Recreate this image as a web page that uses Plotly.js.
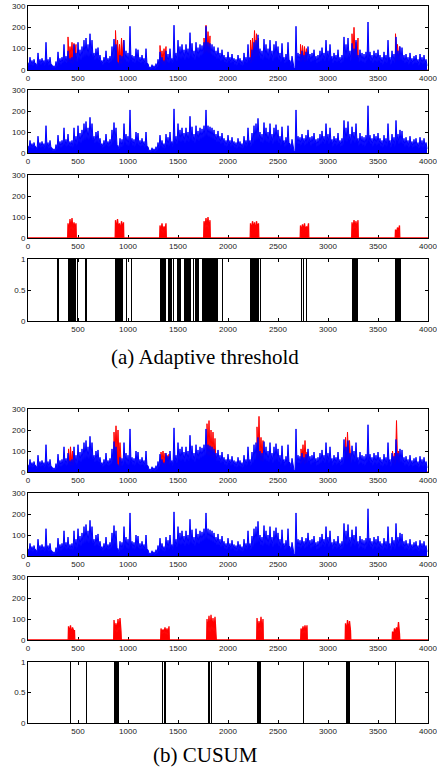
<!DOCTYPE html>
<html><head><meta charset="utf-8">
<script src="https://cdn.plot.ly/plotly-3.0.1.min.js"></script>
<style>html,body{margin:0;padding:0;background:#fff;}#chart{width:437px;height:776px;}</style>
</head><body><div id="chart"></div>
<script>
// samples per bin for the normal-traffic envelope arrays
const binSize = 20;

// normal (background) traffic: highest value in each 20-sample bin
const normalPeak = [
  35,60,45,50,30, 80,50,55,45,130, 50,60,25,20,40, 85,55,60,120,65,
  90,55,60,120,80, 130,95,110,140,150, 120,170,140,80,100, 105,70,45,60,90,
  55,65,110,145,120, 35,70,65,140,90, 80,205,70,65,100, 95,60,70,55,100,
  30,15,25,20,30, 50,85,60,45,90, 75,100,55,210,80, 140,110,120,95,120,
  100,175,125,90,130, 105,120,115,130,205, 130,125,120,110,90, 105,80,95,70,60,
  85,60,75,55,50, 70,55,45,80,60, 120,60,95,130,140, 165,100,90,145,120,
  100,140,90,120,135, 110,80,125,60,75, 130,45,65,10,205, 80,75,90,70,85,
  110,75,80,95,65, 70,90,105,80,140, 90,120,65,80,70, 95,60,70,155,120,
  150,90,125,100,140, 70,95,80,75,85, 225,85,70,90,80, 95,70,60,85,70,
  140,60,90,75,155, 90,110,105,70,75, 60,80,55,65,70, 50,75,60,70,50
];
// normal traffic: lowest value in each 20-sample bin
const normalTrough = [
  20,25,20,30,15, 30,25,30,20,30, 20,25,10,8,15, 30,25,30,35,30,
  35,30,25,40,35, 50,45,55,60,65, 60,70,60,45,50, 45,35,25,30,35,
  30,35,45,55,40, 15,25,30,45,35, 30,45,35,30,40, 35,30,35,25,30,
  10,5,8,5,10, 20,30,25,20,35, 30,40,30,50,40, 55,50,55,45,55,
  50,60,55,45,60, 55,65,70,75,80, 75,70,65,60,50, 50,40,45,35,30,
  40,30,35,25,20, 30,25,20,35,30, 45,30,40,55,60, 65,50,45,55,50,
  45,55,40,50,55, 45,35,50,30,35, 45,20,25,3,40, 40,35,45,35,40,
  50,35,40,45,30, 35,40,50,40,55, 40,50,30,40,35, 40,30,35,55,50,
  60,40,55,45,55, 35,40,35,30,40, 50,40,30,40,35, 40,30,25,35,30,
  50,25,40,30,55, 40,45,40,30,35, 25,35,25,30,30, 20,30,25,30,20
];

// attack bursts (a): start sample and values every 10 samples
const burstStartA = [400, 875, 1320, 1760, 2225, 2725, 3240, 3675];
const attackA = [
  [70,30,90,40,95,35,75,45,70],
  [85,35,90,40,70,30,80,45,75],
  [60,30,70,25,55,35,70],
  [80,45,95,50,100,40,85],
  [70,35,80,40,75,30,80,45,70],
  [60,30,65,35,70,30,55,40,70],
  [75,40,85,45,80,35,85],
  [40,25,50,30,60]
];
// observed total traffic during bursts (a), drawn red in the top panel
const totalA = [
  [155,60,110,70,130,60,125,80,120],
  [185,70,140,60,120,50,150,70,140],
  [115,50,90,45,100,55,110],
  [150,80,210,90,180,85,160],
  [140,70,150,60,185,80,170,65,150],
  [120,60,115,55,110,60,100],
  [170,70,200,80,130,60,150],
  [170,60,120,50,110]
];

// attack bursts (b)
const burstStartB = [405, 860, 1330, 1790, 2290, 2730, 3175, 3645];
const attackB = [
  [65,30,70,25,60,45,45],
  [95,40,80,35,100,45,105,40],
  [55,30,50,35,60,30,55,25,65],
  [100,40,115,35,120,45,105,40,110,35],
  [105,40,90,45,110,35,100],
  [55,30,65,35,70,30,70],
  [80,35,95,40,90,45],
  [40,20,55,30,60,35,85,30]
];
const totalB = [
  [110,50,120,55,100,60,90],
  [190,80,220,90,200,70,140,60],
  [95,50,100,45,90,50,80,45,85],
  [230,100,245,90,200,85,190,80,160,70],
  [215,90,265,80,165,70,150],
  [110,60,130,55,150,60,95],
  [165,70,190,75,150,70],
  [100,50,90,45,245,60,100,50]
];

// detection alarms (start / end sample of each alarm interval)
const alarmAdaptiveStart = [290,400,488,570,873,932,978,1030,1317,1400,1450,1490,1557,1647,1667,1740,1940,2223,2317,2730,2750,2777,3240,3673];
const alarmAdaptiveEnd   = [310,478,498,588,925,948,988,1040,1383,1437,1460,1527,1633,1657,1707,1900,1950,2307,2327,2740,2760,2790,3300,3733];
const alarmCusumStart = [418,578,857,1340,1363,1797,1825,2290,2748,3183,3672];
const alarmCusumEnd   = [428,588,910,1350,1383,1820,1837,2333,2758,3223,3682];

const xTicksFull = [0,500,1000,1500,2000,2500,3000,3500,4000];
const xTicksAlarm = [500,1000,1500,2000,2500,3000,3500,4000];
const yTicksTraffic = [0,100,200,300];
const yTicksAlarm = [0,0.5,1];
const captions = ["(a) Adaptive threshold", "(b) CUSUM"];

// ---- build ----
const W = 437, H = 776;
const panelPx = [[6,70],[90,153],[175,238],[259,321],[409,472],[493,556],[577,640],[662,723]];

// min/max envelope line for the normal traffic
const nx = [], ny = [];
normalPeak.forEach((p, i) => { nx.push(i*binSize, i*binSize + binSize/2); ny.push(p, normalTrough[i]); });

// burst series with a zero baseline spanning the whole axis
function burstSeries(starts, vals) {
  const x = [0], y = [0];
  starts.forEach((s, b) => {
    x.push(s - 3); y.push(0);
    vals[b].forEach((v, j) => { x.push(s + 10*j); y.push(v); });
    x.push(s + 10*(vals[b].length - 1) + 3); y.push(0);
  });
  x.push(4000); y.push(0);
  return {x, y};
}
const sA = burstSeries(burstStartA, attackA), tA = burstSeries(burstStartA, totalA);
const sB = burstSeries(burstStartB, attackB), tB = burstSeries(burstStartB, totalB);

function fillTrace(x, y, color, ax, lw) {
  return {type:'scatter', mode:'lines', x: x, y: y, line:{color:color, width:lw || 1, shape:'linear'},
    fill:'tozeroy', fillcolor:color, xaxis:'x'+ax, yaxis:'y'+ax, hoverinfo:'skip', showlegend:false, cliponaxis:false};
}
function alarmTrace(starts, ends, ax) {
  return {type:'bar', x: starts.map((s,i)=> (s+ends[i])/2), y: starts.map(()=>1),
    width: starts.map((s,i)=> ends[i]-s), marker:{color:'#000', line:{width:0}},
    xaxis:'x'+ax, yaxis:'y'+ax, hoverinfo:'skip', showlegend:false};
}

const data = [
  fillTrace(tA.x, tA.y, '#ff0000', ''), fillTrace(nx, ny, '#0000ff', ''),
  fillTrace(nx, ny, '#0000ff', '2'),
  fillTrace(sA.x, sA.y, '#ff0000', '3', 1.3),
  alarmTrace(alarmAdaptiveStart, alarmAdaptiveEnd, '4'),
  fillTrace(tB.x, tB.y, '#ff0000', '5'), fillTrace(nx, ny, '#0000ff', '5'),
  fillTrace(nx, ny, '#0000ff', '6'),
  fillTrace(sB.x, sB.y, '#ff0000', '7', 1.3),
  alarmTrace(alarmCusumStart, alarmCusumEnd, '8')
];

const tickFont = {family:'Liberation Sans, Arial, sans-serif', size:8, color:'#222'};
const layout = {
  width:W, height:H, margin:{l:0,r:0,t:0,b:0}, paper_bgcolor:'#fff', plot_bgcolor:'#fff',
  showlegend:false, bargap:0,
  annotations:[
    {text:captions[0], xref:'paper', yref:'paper', x:205/W, y:1-357/H, showarrow:false,
     xanchor:'center', yanchor:'middle', font:{family:'Liberation Serif, Times New Roman, serif', size:21, color:'#000'}},
    {text:captions[1], xref:'paper', yref:'paper', x:205/W, y:1-755/H, showarrow:false,
     xanchor:'center', yanchor:'middle', font:{family:'Liberation Serif, Times New Roman, serif', size:21, color:'#000'}}
  ]
};
panelPx.forEach((p, k) => {
  const n = k + 1;
  const isAlarm = (n === 4 || n === 8);
  const isAttack = (n === 3 || n === 7);
  const xa = 'xaxis' + (n === 1 ? '' : n), ya = 'yaxis' + (n === 1 ? '' : n);
  const common = {ticks:'inside', ticklen:3, tickcolor:'#000', tickwidth:1, showline:true, linecolor:'#000',
    linewidth:1, mirror:'allticks', showgrid:false, zeroline:false, tickfont:tickFont, fixedrange:true,
    ticklabeloverflow:'allow', layer: isAttack ? 'below traces' : 'above traces'};
  layout[xa] = Object.assign({}, common, {domain:[28/W, 428/W], range:[0,4000],
    tickmode:'array', tickvals: isAlarm ? xTicksAlarm : xTicksFull, ticktext:(isAlarm ? xTicksAlarm : xTicksFull).map(String),
    anchor:'y' + (n === 1 ? '' : n)});
  layout[ya] = Object.assign({}, common, {domain:[1 - p[1]/H, 1 - p[0]/H], range: isAlarm ? [0,1] : [0,300],
    tickmode:'array', tickvals: isAlarm ? yTicksAlarm : yTicksTraffic, ticktext:(isAlarm ? yTicksAlarm : yTicksTraffic).map(String),
    anchor:'x' + (n === 1 ? '' : n)});
});

Plotly.newPlot('chart', data, layout, {staticPlot:true, displayModeBar:false});
</script>
</body></html>
